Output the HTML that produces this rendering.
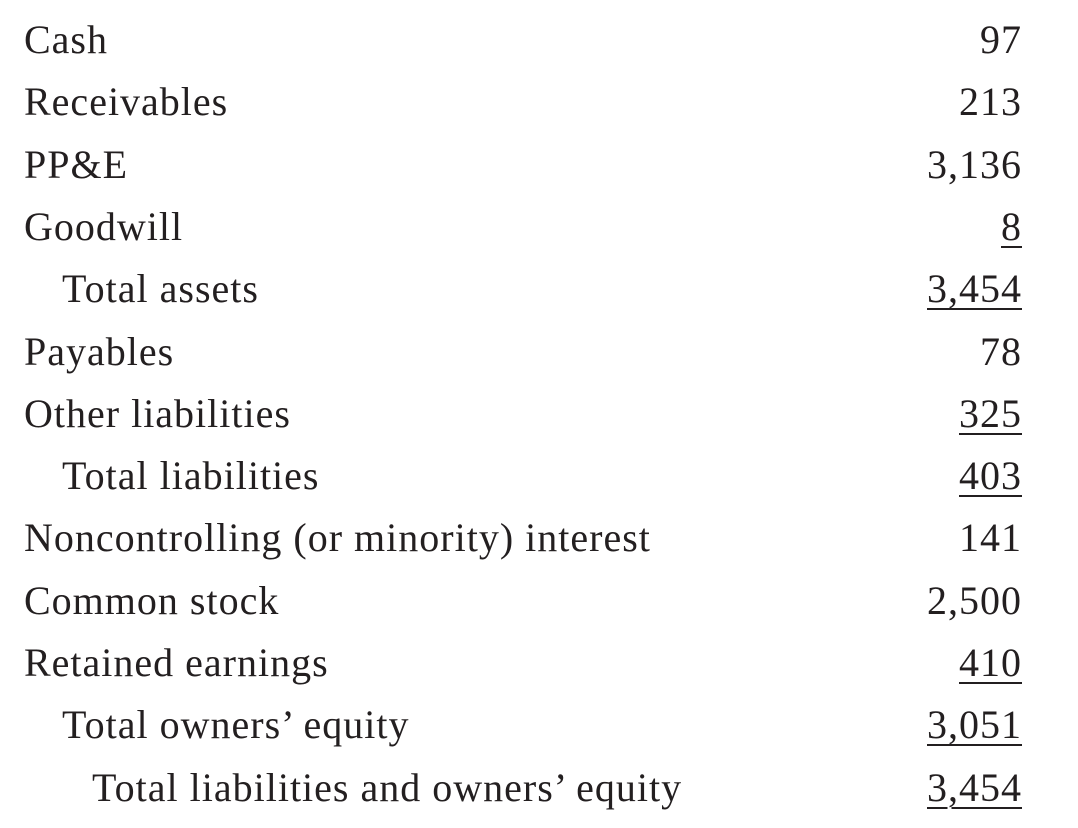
<!DOCTYPE html>
<html><head><meta charset="utf-8"><style>
html,body{margin:0;padding:0;background:#fff;}
body{width:1078px;height:828px;position:relative;overflow:hidden;font-family:"Liberation Serif",serif;color:#231f20;font-size:40px;letter-spacing:1px;}
.row{position:absolute;left:0;width:1078px;height:62px;line-height:62px;}
.lbl{position:absolute;left:24px;white-space:nowrap;}
.i1{left:62px}.i2{left:92px}
.val{position:absolute;right:56px;white-space:nowrap;}
.u{text-decoration:underline;text-decoration-thickness:2px;text-underline-offset:6px;}
</style></head><body>
<div id="t"></div>
<script>
const labels=["Cash","Receivables","PP&E","Goodwill","Total assets","Payables","Other liabilities","Total liabilities","Noncontrolling (or minority) interest","Common stock","Retained earnings","Total owners’ equity","Total liabilities and owners’ equity"];
const values=["97","213","3,136","8","3,454","78","325","403","141","2,500","410","3,051","3,454"];
const indents=[0,0,0,0,1,0,0,1,0,0,0,1,2];
const underlined=[0,0,0,1,1,0,1,1,0,0,1,1,1];
const t=document.getElementById('t');
labels.forEach((l,i)=>{
  const r=document.createElement('div');r.className='row';r.style.top=(9+62.3*i)+'px';
  
  
  const a=document.createElement('span');a.className='lbl'+(indents[i]?' i'+indents[i]:'');a.textContent=l;
  
  
  const b=document.createElement('span');b.className='val'+(underlined[i]?' u':'');b.textContent=values[i];
  
  
  r.appendChild(a);r.appendChild(b);t.appendChild(r);
});
</script>
</body></html>
